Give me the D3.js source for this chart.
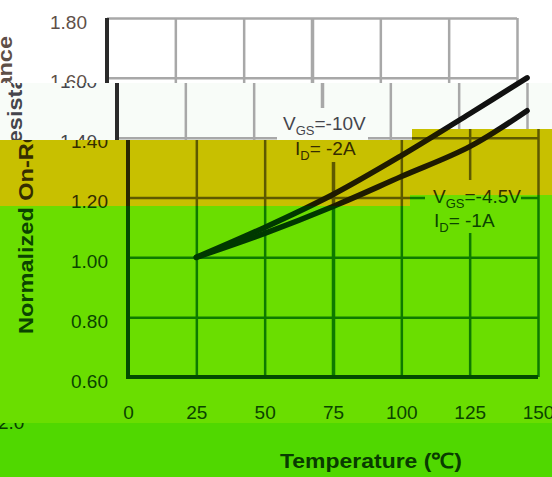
<!DOCTYPE html>
<html>
<head>
<meta charset="utf-8">
<style>
  body { margin: 0; background: #fff; }
  svg { display: block; font-family: "Liberation Sans", Arial, sans-serif; }
</style>
</head>
<body>
<svg id="chart" width="552" height="477"></svg>

<script src="https://cdn.jsdelivr.net/npm/d3@7"></script>
<script>

// values
var tempTicks = [0, 25, 50, 75, 100, 125, 150]
var resTicks = [0.60, 0.80, 1.00, 1.20, 1.40, 1.60, 1.80]

var temps10V = [25, 50, 75, 100, 125, 146]
var res10V = [1.00, 1.10, 1.21, 1.34, 1.48, 1.60]

var temps45V = [25, 50, 75, 100, 125, 146]
var res45V = [1.00, 1.08, 1.17, 1.27, 1.37, 1.49]

var series = [
  { t: temps10V, r: res10V },
  { t: temps45V, r: res45V }
]

var svg = d3.select("#chart")

var x = d3.scaleLinear().domain([0, 150]).range([128, 538])
var y = d3.scaleLinear().domain([0.6, 1.8]).range([377, 18])

var line = d3.line()
  .x(function(d){ return x(d[0]) })
  .y(function(d){ return y(d[1]) })
  .curve(d3.curveCatmullRom)

// the picture is split into horizontal bands, each tinted / shifted differently
var bands = [
  { pts: [[0,0],[552,0],[552,83],[0,83]], dx: -21,
    bg: "#ffffff", grid: "#a8a8a8", axis: "#2a2a2a", text: "#5e4f48", curve: "#111" },
  { pts: [[0,83],[552,83],[552,129],[412,129],[412,140],[0,140]], dx: -11,
    bg: "#f8fcf8", grid: "#a8a8a8", axis: "#2a2a2a", text: "#45454c", curve: "#111" },
  { pts: [[0,140],[412,140],[412,129],[552,129],[552,195],[410,195],[410,206],[0,206]], dx: 0,
    bg: "#c8c000", grid: "#5e5900", axis: "#2a2600", text: "#352c00", curve: "#1e1a00" },
  { pts: [[0,206],[410,206],[410,195],[552,195],[552,423],[0,423]], dx: 0,
    bg: "#6ade00", grid: "#0e7a00", axis: "#034a00", text: "#0a4400", curve: "#003800" },
  { pts: [[0,423],[552,423],[552,477],[0,477]], dx: 0,
    bg: "#50d800", grid: "#0e7a00", axis: "#034a00", text: "#083c00", curve: "#003800" }
]

var defs = svg.append("defs")

bands.forEach(function(b, i){
  var ys = b.pts.map(function(q){ return q[1] })
  var ymin = d3.min(ys), ymax = d3.max(ys)

  defs.append("clipPath").attr("id", "band" + i)
    .append("polygon").attr("points", b.pts.join(" "))

  var g = svg.append("g").attr("clip-path", "url(#band" + i + ")")

  g.append("rect").attr("width", 552).attr("height", 477).attr("fill", b.bg)

  var p = g.append("g").attr("transform", "translate(" + b.dx + ",0)")

  // grid + y labels
  var ya = p.append("g").attr("transform", "translate(" + x(0) + ",0)")
    .call(d3.axisLeft(y).tickValues(resTicks).tickFormat(d3.format(".2f"))
      .tickSize(-(x(150) - x(0))).tickPadding(20))
  ya.select(".domain").remove()
  ya.selectAll("line").attr("stroke", b.grid).attr("stroke-width", 2.5)
  ya.selectAll("text").attr("fill", b.text).attr("font-size", 19)
    .attr("font-family", "Liberation Sans, Arial, sans-serif").attr("dy", "0.53em")

  var xa = p.append("g").attr("transform", "translate(0," + y(0.6) + ")")
    .call(d3.axisBottom(x).tickValues(tempTicks)
      .tickSize(-(y(0.6) - y(1.8))).tickPadding(29))
  xa.select(".domain").remove()
  xa.selectAll("line").attr("stroke", b.grid)
    .attr("stroke-width", function(d){ return d == 75 ? 3.5 : 2.5 })
  xa.selectAll("text").attr("fill", b.text).attr("font-size", 19)
    .attr("font-family", "Liberation Sans, Arial, sans-serif")

  // frame
  p.append("line").attr("x1", x(0)).attr("x2", x(0)).attr("y1", y(1.8)).attr("y2", y(0.6) + 2)
    .attr("stroke", b.axis).attr("stroke-width", 4)
  p.append("line").attr("x1", x(0)).attr("x2", x(150)).attr("y1", y(0.6)).attr("y2", y(0.6))
    .attr("stroke", b.axis).attr("stroke-width", 4)

  // annotation boxes
  p.append("rect").attr("x", 288).attr("y", 108).attr("width", 91).attr("height", 54).attr("fill", b.bg)
  p.append("rect").attr("x", 425).attr("y", 180).attr("width", 96).attr("height", 53).attr("fill", b.bg)

  function label(tx, ty, main, sub, rest){
    var t = p.append("text").attr("x", tx).attr("y", ty).attr("fill", b.text).attr("font-size", 19)
    t.append("tspan").text(main)
    t.append("tspan").attr("font-size", 13).attr("dy", 5).text(sub)
    t.append("tspan").attr("dy", -5).text(rest)
  }
  label(294, 130, "V", "GS", "=-10V")
  label(295, 155, "I", "D", "= -2A")
  label(433, 203, "V", "GS", "=-4.5V")
  label(434, 227, "I", "D", "= -1A")

  // axis titles
  p.append("text")
    .attr("transform", "translate(33,185) rotate(-90)")
    .attr("text-anchor", "middle").attr("font-weight", "bold").attr("font-size", 21)
    .attr("textLength", 298).attr("lengthAdjust", "spacingAndGlyphs")
    .attr("fill", b.text).text("Normalized On-Resistance")
  p.append("text")
    .attr("x", 371).attr("y", 468)
    .attr("text-anchor", "middle").attr("font-weight", "bold").attr("font-size", 21)
    .attr("textLength", 182).attr("lengthAdjust", "spacingAndGlyphs")
    .attr("fill", b.text).text("Temperature (\u2103)")

  // stray fragment at the bottom-left edge
  if (i == 4) {
    p.append("text").attr("x", -2).attr("y", 429).attr("font-size", 19)
      .attr("fill", b.text).text("2.0")
  }

  // keep only the texts that show inside this band
  p.selectAll("text").each(function(){
    var r = this.getBoundingClientRect()
    if (r.bottom < ymin || r.top > ymax) d3.select(this).remove()
  })

  // curves (not shifted)
  g.selectAll(".curve").data(series).enter().append("path")
    .attr("class", "curve")
    .attr("d", function(s){ return line(s.t.map(function(t, k){ return [t, s.r[k]] })) })
    .attr("fill", "none").attr("stroke", b.curve).attr("stroke-width", 5.5)
    .attr("stroke-linecap", "round")
})

</script>
</body>
</html>
